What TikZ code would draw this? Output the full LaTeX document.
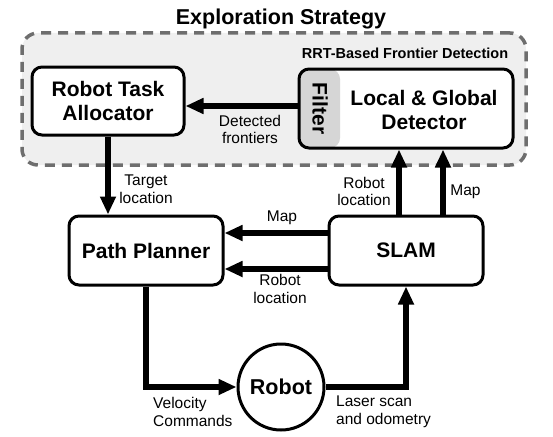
\documentclass[tikz,border=0pt]{standalone}
\usepackage{fontspec}
\setmainfont{Liberation Sans}
\usetikzlibrary{arrows.meta,calc}
\definecolor{dashgray}{HTML}{6E6E6E}
\definecolor{bggray}{HTML}{EFEFEF}
\definecolor{filtergray}{HTML}{D6D6D6}
\tikzset{
  box/.style={draw, line width=3pt, rounded corners=10pt, fill=white, align=center, inner sep=0pt,
    font=\fontsize{21}{24.5}\selectfont\bfseries},
  arr/.style={line width=5.5pt, -{Triangle[length=18pt,width=15pt]}},
  lbl/.style={font=\fontsize{15.5}{17.5}\selectfont, align=center, inner sep=0pt},
  frame/.style={draw=dashgray, fill=bggray, line width=3.5pt, dash pattern=on 10pt off 7pt, rounded corners=16pt}
}
\begin{document}
\begin{tikzpicture}[x=1pt,y=-1pt]
\useasboundingbox (0,0) rectangle (553,436);
% frame
\node[frame, minimum width=504pt, minimum height=132pt] (expl) at (274,99) {};
\node[anchor=base, font=\fontsize{21.5}{24}\selectfont\bfseries, inner sep=0pt] (title) at (281,25) {Exploration Strategy};
\node[font=\fontsize{14.5}{16}\selectfont\bfseries, inner sep=0pt] (rrt) at (405,53) {RRT-Based Frontier Detection};
% boxes
\node[box, minimum width=152pt, minimum height=68pt] (alloc) at (108,101) {Robot Task\\Allocator};
\node[box, minimum width=214pt, minimum height=79pt,
  path picture={\fill[filtergray] (path picture bounding box.north west) rectangle ([xshift=41pt]path picture bounding box.south west);}] (det) at (406,108.5) {};
\node[font=\fontsize{21}{24.5}\selectfont\bfseries, align=center, inner sep=0pt] (dettext) at (424,110) {Local \& Global\\Detector};
\node[rotate=-90, font=\fontsize{21}{24}\selectfont\bfseries, inner sep=0pt] (filter) at (320,108.5) {Filter};
\node[box, minimum width=154pt, minimum height=69pt] (planner) at (146,250.5) {Path Planner};
\node[box, minimum width=154pt, minimum height=69pt] (slam) at (406,250.5) {SLAM};
\node[draw, circle, line width=3pt, minimum size=86pt, inner sep=0pt, fill=white,
  font=\fontsize{21.5}{24}\selectfont\bfseries] (robot) at (281,387) {Robot};
% connectors
\coordinate (d1) at ([yshift=2.5pt]det.west);
\draw[arr] (d1) -- (d1 -| alloc.east);
\draw[arr] (alloc.south) -- (alloc.south |- planner.north);
\coordinate (s1) at ([yshift=17.5pt]slam.west);
\coordinate (s2) at ([yshift=-18.5pt]slam.west);
\draw[arr] (s1) -- (s1 -| planner.east);
\draw[arr] (s2) -- (s2 -| planner.east);
\coordinate (u1) at ([xshift=-7pt]slam.north);
\coordinate (u2) at ([xshift=37pt]slam.north);
\draw[arr] (u1) -- (u1 |- det.south);
\draw[arr] (u2) -- (u2 |- det.south);
\draw[arr] (planner.south) |- (robot.west);
\draw[arr] (robot.east) -| (slam.south);
% labels
\node[lbl] (l1) at (250,129.5) {Detected\\frontiers};
\node[lbl] (l2) at (146,189) {Target\\location};
\node[lbl] (l3) at (364,191.5) {Robot\\location};
\node[lbl] (l4) at (465.5,192) {Map};
\node[lbl] (l5) at (282,218) {Map};
\node[lbl] (l6) at (280,289) {Robot\\location};
\node[lbl, align=left, anchor=west] (l7) at (153,412) {Velocity\\Commands};
\node[lbl, align=left, anchor=west] (l8) at (336,412) {Laser scan\\and odometry};
\end{tikzpicture}
\end{document}
